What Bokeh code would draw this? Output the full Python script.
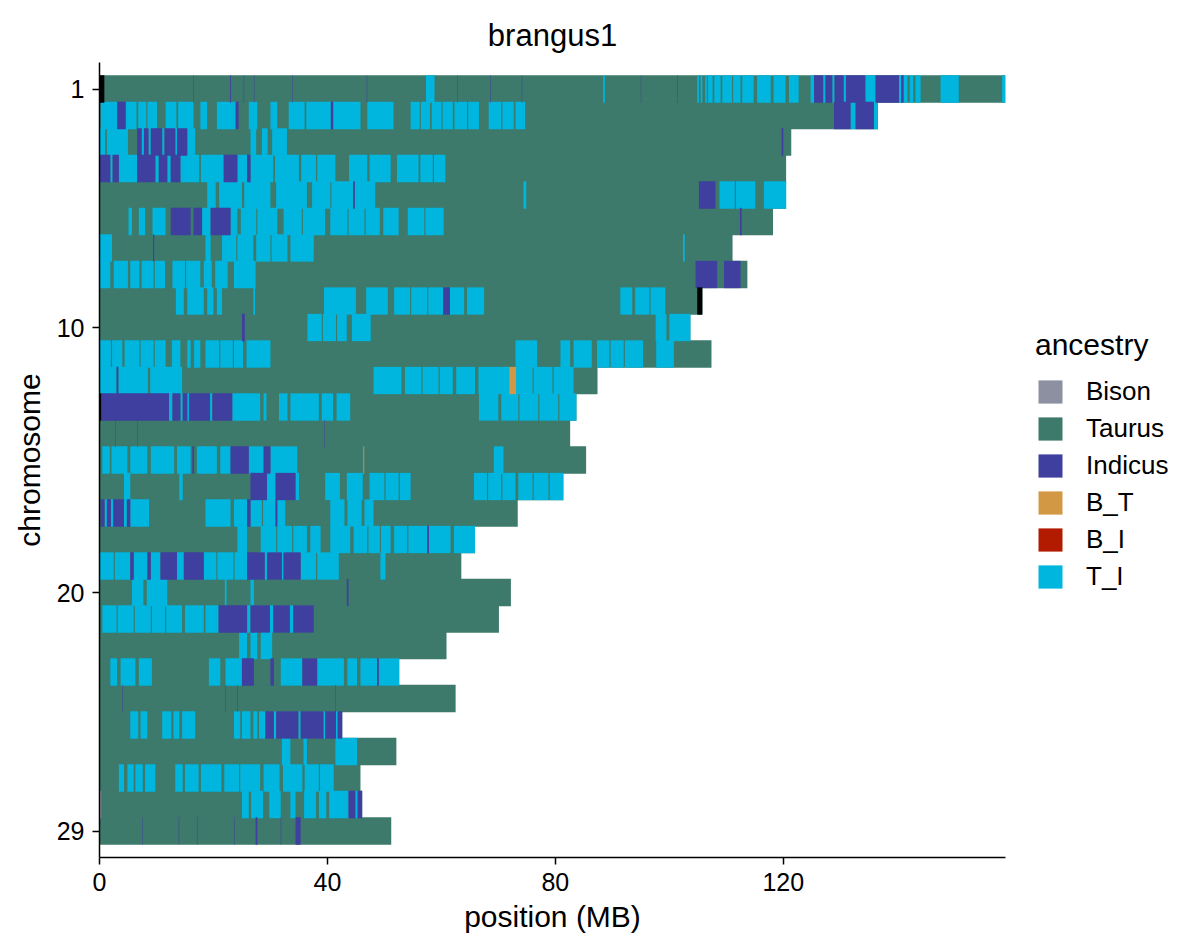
from bokeh.plotting import figure
from bokeh.models import Range1d, Legend, LegendItem, FixedTicker, ColumnDataSource
from bokeh.embed import file_html
from bokeh.resources import INLINE

# ---------------- data ----------------
ancestry_names = ["Bison", "Taurus", "Indicus", "B_T", "B_I", "T_I"]
ancestry_colors = ["#8C90A1", "#3D7A6B", "#3F3F9F", "#D29843", "#B31B00", "#00B5DE"]
missing_color = "#000000"

chromosomes = list(range(1, 30))
chrom_lengths = [159.0, 136.6, 121.4, 120.5, 120.5, 118.2, 111.1, 113.7, 105.8, 103.7,
                 107.4, 87.4, 83.7, 82.6, 85.4, 81.4, 73.4, 65.9, 63.5, 72.2,
                 70.1, 60.9, 52.6, 62.5, 42.6, 52.1, 45.8, 46.1, 51.2]

x_ticks = [0, 40, 80, 120]
y_ticks = [1, 10, 20, 29]

# non-Taurus segments (start MB, end MB, code); the rest of each chromosome is Taurus
seg_chr01 = [(0.0, 0.85, "NA"), (16.5, 16.58, "I"), (22.9, 23.05, "I"), (25.3, 25.38, "I"), (27.1, 27.18, "I"),
             (33.8, 33.88, "I"), (46.9, 46.98, "I"), (57.3, 58.8, "TI"), (62.8, 62.88, "I"),
             (68.6, 68.68, "I"), (74.1, 74.18, "I"), (88.4, 88.7, "TI"), (95.0, 95.08, "I"),
             (101.4, 101.48, "I"),
             (104.9, 105.2, "TI"), (105.5, 105.8, "TI"), (106.3, 106.6, "TI"), (106.8, 107.6, "TI"),
             (107.9, 109.0, "TI"), (109.3, 111.0, "TI"), (111.2, 112.5, "TI"), (112.8, 114.8, "TI"),
             (115.4, 117.8, "TI"),
             (118.3, 120.4, "TI"), (121.0, 122.7, "TI"), (124.8, 125.4, "TI"), (125.4, 127.0, "I"),
             (127.0, 127.4, "TI"), (127.4, 128.6, "I"), (128.6, 129.0, "TI"), (129.0, 130.6, "I"),
             (130.6, 131.0, "TI"), (131.0, 134.4, "I"), (134.4, 136.2, "TI"), (136.2, 140.3, "I"),
             (140.3, 140.7, "TI"), (140.7, 141.1, "I"), (141.1, 141.8, "TI"), (142.2, 142.8, "TI"),
             (143.2, 144.1, "TI"), (147.6, 150.8, "TI"), (158.4, 159.0, "TI")]
seg_chr02 = [(0.2, 3.1, "TI"), (3.1, 4.6, "I"), (4.6, 6.5, "TI"), (6.8, 8.2, "TI"), (8.4, 10.1, "TI"),
             (11.6, 13.5, "TI"),
             (13.8, 16.5, "TI"), (17.7, 18.9, "TI"), (20.6, 23.9, "TI"), (23.9, 24.4, "I"),
             (26.2, 27.7, "TI"), (30.0, 31.2, "TI"), (33.2, 36.0, "TI"), (36.3, 40.6, "TI"),
             (40.6, 41.0, "I"), (41.0, 45.8, "TI"), (47.0, 51.6, "TI"), (54.6, 56.2, "TI"),
             (56.4, 58.0, "TI"), (58.3, 60.0, "TI"), (60.2, 62.0, "TI"), (62.3, 64.5, "TI"),
             (64.7, 66.6, "TI"), (68.3, 70.5, "TI"), (70.7, 72.7, "TI"), (73.0, 74.7, "TI"),
             (128.9, 131.8, "I"), (131.8, 132.7, "TI"), (132.7, 135.9, "I"), (135.9, 136.6, "TI")]
seg_chr03 = [(0.0, 1.0, "TI"), (1.3, 5.0, "TI"), (6.6, 7.4, "I"), (7.4, 7.8, "TI"), (7.8, 8.6, "I"),
             (8.6, 9.0, "TI"), (9.0, 11.0, "I"), (11.0, 11.4, "TI"), (11.4, 13.3, "I"), (13.3, 13.6, "TI"),
             (13.6, 15.4, "I"), (15.4, 16.8, "TI"), (26.5, 27.5, "TI"), (28.5, 29.5, "TI"),
             (30.3, 32.9, "TI"), (119.7, 120.0, "I")]
seg_chr04 = [(0.0, 1.9, "I"), (1.9, 2.3, "TI"), (2.3, 3.4, "I"), (3.4, 6.6, "TI"), (6.6, 9.8, "I"),
             (9.8, 10.4, "TI"), (10.4, 11.9, "I"), (11.9, 12.5, "TI"), (12.5, 14.2, "I"), (14.2, 17.5, "TI"),
             (17.8, 21.8, "TI"), (21.8, 24.2, "I"), (24.2, 25.9, "TI"), (25.9, 26.5, "I"),
             (26.5, 30.5, "TI"), (30.8, 35.0, "TI"), (35.4, 38.0, "TI"), (38.2, 41.4, "TI"),
             (43.8, 47.0, "TI"), (47.4, 51.1, "TI"), (52.2, 56.0, "TI"), (56.3, 58.5, "TI"),
             (58.7, 60.7, "TI")]
seg_chr05 = [(18.9, 20.4, "TI"), (21.0, 25.0, "TI"), (25.4, 30.0, "TI"), (31.0, 36.4, "TI"),
             (37.3, 40.5, "TI"), (40.7, 44.5, "TI"), (44.5, 44.8, "I"), (44.8, 48.4, "TI"), (74.4, 74.9, "TI"),
             (105.2, 108.1, "I"), (108.8, 111.5, "TI"), (111.7, 115.1, "TI"), (116.6, 120.5, "TI")]
seg_chr06 = [(5.1, 5.7, "TI"), (6.9, 8.0, "TI"), (9.3, 11.6, "TI"), (12.5, 16.0, "I"), (16.5, 18.0, "I"),
             (18.0, 19.5, "TI"), (19.5, 23.0, "I"), (23.0, 24.2, "TI"), (24.8, 27.5, "TI"),
             (27.7, 31.2, "TI"), (32.3, 35.5, "TI"), (35.7, 39.6, "TI"), (40.5, 43.5, "TI"),
             (43.7, 46.5, "TI"), (46.7, 49.2, "TI"), (49.8, 52.5, "TI"), (54.1, 57.0, "TI"),
             (57.2, 60.4, "TI"), (112.4, 112.7, "I")]
seg_chr07 = [(0.0, 2.2, "TI"), (9.4, 9.6, "I"), (18.6, 19.5, "TI"), (21.5, 24.0, "TI"), (24.2, 27.0, "TI"),
             (27.5, 30.0, "TI"), (30.2, 33.0, "TI"), (33.5, 37.6, "TI"), (102.4, 102.7, "TI")]
seg_chr08 = [(0.0, 1.9, "TI"), (2.5, 5.0, "TI"), (5.4, 7.0, "TI"), (7.4, 9.5, "TI"), (9.7, 11.5, "TI"),
             (12.8, 15.0, "TI"), (15.2, 17.7, "TI"),
             (18.3, 19.7, "TI"), (20.3, 22.5, "TI"), (23.6, 27.4, "TI"), (104.6, 108.4, "I"),
             (109.6, 112.5, "I")]
seg_chr09 = [(13.4, 14.8, "TI"), (15.4, 18.3, "TI"), (18.9, 20.0, "TI"), (20.6, 21.5, "TI"),
             (27.0, 27.3, "TI"), (39.4, 45.0, "TI"), (46.8, 50.6, "TI"), (51.7, 54.5, "TI"),
             (54.7, 57.5, "TI"), (57.7, 60.3, "TI"),
             (60.3, 61.5, "I"), (61.5, 64.0, "TI"), (64.5, 67.5, "TI"), (91.4, 93.5, "TI"),
             (94.0, 96.5, "TI"), (96.7, 99.3, "TI"), (104.9, 105.8, "NA")]
seg_chr10 = [(25.0, 25.5, "I"), (36.5, 39.0, "TI"), (39.2, 41.5, "TI"), (41.7, 43.4, "TI"),
             (44.3, 47.6, "TI"), (97.6, 99.5, "TI"), (100.0, 103.7, "TI")]
seg_chr11 = [(0.0, 2.0, "TI"), (2.2, 4.0, "TI"), (4.4, 7.0, "TI"), (7.2, 9.5, "TI"), (9.7, 11.6, "TI"),
             (12.7, 14.2, "TI"), (15.4, 16.0, "TI"),
             (16.6, 17.7, "TI"), (18.6, 21.0, "TI"), (21.2, 23.4, "TI"), (23.6, 25.2, "TI"),
             (25.8, 30.0, "TI"), (73.0, 76.8, "TI"),
             (80.9, 82.6, "TI"), (83.2, 86.4, "TI"), (87.3, 89.5, "TI"), (89.7, 92.0, "TI"),
             (92.2, 95.4, "TI"), (97.7, 100.8, "TI")]
seg_chr12 = [(0.0, 3.0, "TI"), (3.0, 3.3, "I"), (3.3, 8.5, "TI"), (8.9, 14.5, "TI"), (48.1, 53.0, "TI"),
             (53.6, 56.5, "TI"), (56.7, 59.5, "TI"), (59.7, 62.0, "TI"), (62.6, 65.9, "TI"),
             (66.5, 71.9, "TI"), (71.9, 73.1, "BT"),
             (73.1, 76.0, "TI"), (76.2, 79.5, "TI"), (79.7, 83.2, "TI")]
seg_chr13 = [(0.0, 0.3, "NA"), (0.3, 12.2, "I"), (12.2, 12.8, "TI"), (12.8, 14.2, "I"), (14.2, 14.6, "TI"),
             (14.6, 15.4, "I"), (15.4, 15.7, "TI"), (15.7, 19.4, "I"), (19.4, 19.8, "TI"),
             (19.8, 23.3, "I"), (23.3, 28.2, "TI"), (28.8, 29.3, "TI"), (31.5, 33.0, "TI"),
             (33.5, 38.5, "TI"), (39.0, 41.0, "TI"), (41.6, 44.0, "TI"), (66.6, 70.0, "TI"),
             (70.5, 73.5, "TI"), (73.7, 77.0, "TI"), (77.2, 80.5, "TI"), (80.7, 83.7, "TI")]
seg_chr14 = [(2.8, 2.88, "I"), (6.6, 6.68, "I"), (39.4, 39.48, "I")]
seg_chr15 = [(0.5, 1.8, "TI"), (2.1, 4.9, "TI"), (5.4, 8.4, "TI"), (9.0, 13.1, "TI"), (13.6, 16.0, "TI"),
             (16.3, 16.6, "I"), (17.1, 20.6, "TI"), (21.2, 23.0, "TI"), (23.0, 26.2, "I"),
             (26.2, 28.8, "TI"), (28.8, 30.0, "I"), (30.0, 34.7, "TI"), (46.3, 46.45, "BT"),
             (69.2, 70.9, "TI")]
seg_chr16 = [(4.3, 5.4, "TI"), (14.0, 14.6, "TI"), (26.5, 29.4, "I"), (29.4, 30.9, "TI"), (30.9, 34.4, "I"),
             (34.4, 35.0, "TI"), (39.6, 42.2, "TI"), (43.4, 46.2, "TI"), (47.4, 50.0, "TI"),
             (50.2, 52.5, "TI"), (52.7, 54.6, "TI"), (65.7, 68.0, "TI"), (68.2, 70.5, "TI"),
             (70.7, 73.0, "TI"), (73.5, 76.0, "TI"), (76.2, 78.8, "TI"), (79.0, 81.4, "TI")]
seg_chr17 = [(0.2, 0.9, "I"), (0.9, 1.3, "TI"), (1.3, 2.0, "I"), (2.0, 2.4, "TI"), (2.4, 4.3, "I"),
             (4.3, 4.8, "TI"), (4.8, 5.4, "I"), (5.4, 8.7, "TI"), (18.6, 23.0, "TI"), (23.6, 25.9, "TI"),
             (25.9, 26.5, "I"), (26.5, 28.5, "TI"), (28.7, 30.9, "TI"), (30.9, 31.2, "I"), (31.2, 32.6, "TI"),
             (40.5, 43.0, "TI"), (43.5, 46.0, "TI"), (46.5, 48.1, "TI")]
seg_chr18 = [(24.2, 25.9, "TI"), (28.3, 31.0, "TI"), (31.2, 33.8, "TI"), (34.0, 36.4, "TI"),
             (37.0, 38.8, "TI"), (40.5, 44.0, "TI"), (44.6, 47.0, "TI"), (47.2, 49.2, "TI"),
             (49.4, 51.1, "TI"), (51.7, 54.0, "TI"), (54.2, 57.5, "TI"), (57.5, 57.8, "I"),
             (57.8, 61.6, "TI"), (62.2, 65.9, "TI")]
seg_chr19 = [(0.0, 2.5, "TI"), (2.7, 5.4, "TI"), (5.4, 6.0, "I"), (6.0, 8.4, "TI"), (8.4, 9.0, "I"),
             (9.0, 10.7, "TI"), (10.7, 13.6, "I"), (13.6, 14.8, "TI"), (14.8, 18.3, "I"),
             (18.3, 20.5, "TI"), (20.7, 23.5, "TI"), (23.7, 25.9, "TI"),
             (25.9, 29.0, "I"), (29.0, 29.4, "TI"), (29.4, 32.0, "I"), (32.0, 32.3, "TI"),
             (32.3, 35.3, "I"), (35.3, 38.0, "TI"), (38.2, 42.0, "TI"), (49.3, 50.2, "TI")]
seg_chr20 = [(5.7, 7.7, "TI"), (8.3, 11.9, "TI"), (22.0, 22.3, "TI"), (26.5, 27.1, "TI"), (43.4, 43.7, "I")]
seg_chr21 = [(0.5, 3.0, "TI"), (3.2, 6.0, "TI"), (6.2, 9.0, "TI"), (9.2, 11.5, "TI"), (11.7, 14.5, "TI"),
             (15.0, 18.3, "TI"), (18.6, 20.9, "TI"), (20.9, 25.9, "I"), (25.9, 26.5, "TI"),
             (26.5, 29.9, "I"), (29.9, 30.5, "TI"), (30.5, 33.4, "I"), (33.4, 34.0, "TI"), (34.0, 37.6, "I")]
seg_chr22 = [(24.5, 25.9, "TI"), (26.5, 27.7, "TI"), (28.3, 30.3, "TI")]
seg_chr23 = [(1.9, 3.1, "TI"), (3.7, 6.3, "TI"), (6.9, 9.2, "TI"), (19.2, 21.2, "TI"), (22.1, 25.0, "TI"),
             (25.0, 27.1, "I"), (30.0, 30.6, "I"), (31.8, 35.6, "TI"), (35.6, 38.2, "I"),
             (38.2, 42.9, "TI"), (43.5, 45.2, "TI"), (45.8, 48.7, "TI"), (48.7, 49.0, "I"),
             (49.0, 52.6, "TI")]
seg_chr24 = [(4.0, 4.08, "I"), (22.1, 22.18, "I"), (24.2, 24.28, "I"), (41.4, 41.48, "I")]
seg_chr25 = [(5.4, 6.8, "TI"), (7.2, 8.4, "TI"), (11.0, 12.6, "TI"), (13.0, 14.0, "TI"), (14.5, 16.8, "TI"),
             (23.6, 24.7, "TI"), (25.0, 26.5, "TI"), (27.0, 27.7, "TI"), (28.0, 29.1, "TI"),
             (29.1, 30.6, "I"), (30.6, 31.0, "TI"), (31.0, 34.9, "I"), (34.9, 35.3, "TI"),
             (35.3, 39.3, "I"), (39.3, 39.6, "TI"), (39.6, 41.5, "I"), (41.5, 41.8, "TI"), (41.8, 42.6, "I")]
seg_chr26 = [(32.0, 33.5, "TI"), (35.8, 36.4, "TI"), (41.4, 45.2, "TI")]
seg_chr27 = [(3.4, 4.3, "TI"), (4.9, 6.0, "TI"), (6.3, 7.6, "TI"), (8.0, 9.8, "TI"), (13.3, 14.6, "TI"),
             (15.0, 17.4, "TI"), (17.8, 21.4, "TI"), (21.9, 24.5, "TI"), (24.7, 28.2, "TI"),
             (28.8, 31.6, "TI"), (32.2, 35.6, "TI"), (36.0, 38.5, "TI"), (38.7, 41.1, "TI")]
seg_chr28 = [(0.0, 0.3, "B"), (25.0, 26.2, "TI"), (26.6, 28.7, "TI"), (29.8, 31.8, "TI"), (33.5, 34.4, "TI"),
             (35.9, 38.0, "TI"), (38.5, 39.8, "TI"), (40.3, 43.7, "TI"), (43.7, 44.9, "I"),
             (44.9, 45.3, "TI"), (45.3, 46.1, "I")]
seg_chr29 = [(7.5, 7.58, "I"), (13.9, 13.98, "I"), (17.1, 17.18, "I"), (23.6, 23.68, "I"),
             (27.4, 27.7, "I"), (31.8, 31.88, "I"), (34.4, 35.3, "I")]

all_segments = [seg_chr01, seg_chr02, seg_chr03, seg_chr04, seg_chr05, seg_chr06, seg_chr07, seg_chr08,
                seg_chr09, seg_chr10, seg_chr11, seg_chr12, seg_chr13, seg_chr14, seg_chr15, seg_chr16,
                seg_chr17, seg_chr18, seg_chr19, seg_chr20, seg_chr21, seg_chr22, seg_chr23, seg_chr24,
                seg_chr25, seg_chr26, seg_chr27, seg_chr28, seg_chr29]

code_to_name = {"B": "Bison", "I": "Indicus", "BT": "B_T", "BI": "B_I", "TI": "T_I", "NA": "NA"}

# ---------------- figure ----------------
FONT = "Liberation Sans"
BAR_H = 1.03

p = figure(frame_width=906, frame_height=795, output_backend="svg", toolbar_location=None,
           x_range=Range1d(0, 159), y_range=Range1d(30, 0), title="brangus1",
           min_border_left=99, min_border_right=160, min_border_top=62, min_border_bottom=76)
p.outline_line_color = None
p.grid.visible = False
p.background_fill_color = "white"
p.border_fill_color = "white"

p.title.text_font = FONT
p.title.text_font_size = "31px"
p.title.text_font_style = "normal"
p.title.align = "center"
p.title.text_color = "black"
p.title.standoff = 19

renderers = {}
# Taurus: full chromosome bars as background
taurus_src = ColumnDataSource(dict(chrom=chromosomes, start=[0.0] * len(chromosomes), end=chrom_lengths))
renderers["Taurus"] = p.hbar(y="chrom", left="start", right="end", height=BAR_H, source=taurus_src,
                             fill_color=ancestry_colors[1], line_color=None)

draw_order = ["T_I", "Indicus", "B_T", "B_I", "Bison", "NA"]
for name in draw_order:
    ch, st, en = [], [], []
    for ci, segs in enumerate(all_segments):
        for (s, e, c) in segs:
            if code_to_name[c] == name:
                ch.append(chromosomes[ci]); st.append(s); en.append(e)
    if not ch:
        # no segment of this ancestry: zero-length entry so that the legend key is still drawn
        ch, st, en = [chromosomes[0]], [0.0], [0.0]
    color = missing_color if name == "NA" else ancestry_colors[ancestry_names.index(name)]
    src = ColumnDataSource(dict(chrom=ch, start=st, end=en))
    renderers[name] = p.hbar(y="chrom", left="start", right="end", height=BAR_H, source=src,
                             fill_color=color, line_color=None)

# axes
for ax in (p.xaxis, p.yaxis):
    ax.axis_line_color = "black"
    ax.axis_line_width = 1.5
    ax.major_tick_line_color = "black"
    ax.major_tick_line_width = 1.5
    ax.major_tick_out = 7
    ax.major_tick_in = 0
    ax.minor_tick_line_color = None
    ax.major_label_text_font = FONT
    ax.major_label_text_font_size = "25px"
    ax.major_label_text_color = "black"
    ax.axis_label_text_font = FONT
    ax.axis_label_text_font_size = "30px"
    ax.axis_label_text_font_style = "normal"
    ax.axis_label_text_color = "black"

p.xaxis.ticker = FixedTicker(ticks=x_ticks)
p.yaxis.ticker = FixedTicker(ticks=y_ticks)
p.xaxis.axis_label = "position (MB)"
p.yaxis.axis_label = "chromosome"
p.xaxis.major_label_standoff = 8
p.yaxis.major_label_standoff = 8
p.xaxis.axis_label_standoff = 6
p.yaxis.axis_label_standoff = 8

items = [LegendItem(label=n, renderers=[renderers[n]]) for n in ancestry_names]
legend = Legend(items=items, title="ancestry", location="center_left")
legend.title_text_font = FONT
legend.title_text_font_size = "30px"
legend.title_text_font_style = "normal"
legend.title_text_color = "black"
legend.title_standoff = 14
legend.label_text_font = FONT
legend.label_text_font_size = "26px"
legend.label_text_color = "black"
legend.glyph_width = 30
legend.glyph_height = 29
legend.label_height = 29
legend.spacing = 6
legend.label_standoff = 21
legend.border_line_color = None
legend.background_fill_alpha = 0
legend.padding = 2
legend.margin = 30
p.add_layout(legend, "right")

open("out.html", "w").write(file_html(p, INLINE))
